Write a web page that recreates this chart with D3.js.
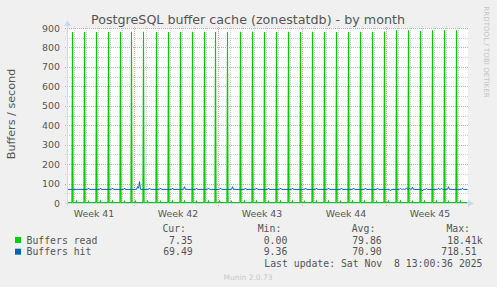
<!DOCTYPE html>
<html>
<head>
<meta charset="utf-8">
<script src="https://cdn.jsdelivr.net/npm/d3@7"></script>
<style>
  body { margin: 0; background: #f0f0f0; }
  svg { display: block; font-family: "DejaVu Sans", sans-serif; }
  .mono { font-family: "DejaVu Sans Mono", monospace; }
</style>
</head>
<body>
<script>
// time runs in hours from the left edge of the graph (2 h per pixel)
const spanHours = 800;
const weekLabels = ['Week 41', 'Week 42', 'Week 43', 'Week 44', 'Week 45'];
const weekLabelHours = [52, 220, 388, 556, 724];
const weekStartHours = [134, 302, 470, 638];
const yTicks = [0, 100, 200, 300, 400, 500, 600, 700, 800, 900];

// Buffers read: flat near zero with one tall spike a day
const readBase = 2;
const readSpikeHours = [10, 34, 58, 82, 106, 128, 152, 178, 202, 226, 250, 274, 296, 320, 346, 370, 394,
  418, 442, 466, 490, 514, 538, 562, 586, 610, 634, 658, 682, 706, 730, 754, 778];
const readSpikeValues = [879, 880, 880, 880, 880, 881, 881, 879, 880, 880, 881, 881, 880, 880, 881, 881, 880,
  880, 881, 880, 881, 880, 880, 880, 881, 881, 882, 888, 888, 885, 888, 888, 888];
const readBumpHours = [18, 42, 66, 90, 114, 136, 160, 186, 210, 234, 258, 282, 304, 328, 354, 378, 402,
  426, 450, 474, 498, 522, 546, 570, 594, 618, 642, 666, 690, 714, 738, 762, 786];
const readBumpValues = [10, 9, 10, 10, 9, 10, 10, 9, 10, 10, 9, 10, 10, 9, 10, 10, 9,
  10, 10, 9, 10, 10, 9, 10, 10, 9, 10, 10, 9, 10, 10, 9, 10];

// Buffers hit: steady around 70 with small daily bumps
const hitBase = 70;
const hitHours = [42, 66, 90, 114, 140, 142, 144, 164, 186, 210, 234, 258, 282, 306, 330, 356, 378, 402,
  426, 450, 476, 498, 522, 548, 572, 596, 620, 646, 666, 672, 678, 684, 690, 710, 718, 742, 748, 762, 790];
const hitValues = [77, 77, 77, 77, 84, 76, 110, 77, 77, 77, 84, 77, 77, 77, 84, 77, 77, 77,
  77, 77, 77, 77, 77, 77, 77, 77, 77, 62, 76, 72, 78, 74, 82, 62, 74, 76, 76, 84, 76];

const seriesNames = ['Buffers read', 'Buffers hit'];
const curValues = ['7.35', '69.49'];
const minValues = ['0.00', '9.36'];
const avgValues = ['79.86', '70.90'];
const maxValues = ['18.41k', '718.51'];

const colors = ['#00cc00', '#0066b3'];
const textColor = '#555';
const axisColor = '#cfd6f8';

const W = 497, H = 287;
const plotLeft = 67, plotRight = 467, plotTop = 28, plotBottom = 203;

const svg = d3.select('body').append('svg')
  .attr('width', W)
  .attr('height', H);

const x = d3.scaleLinear().domain([0, spanHours]).range([plotLeft + 0.5, plotRight + 0.5]);
const y = d3.scaleLinear().domain([0, 900]).range([plotBottom, plotTop]);

// white canvas
svg.append('rect')
  .attr('x', plotLeft).attr('y', plotTop)
  .attr('width', plotRight - plotLeft + 1).attr('height', plotBottom - plotTop)
  .attr('fill', '#fff');

// grid
const grid = svg.append('g').attr('shape-rendering', 'crispEdges').attr('stroke-dasharray', '1,1');
const dayHours = d3.range(14, spanHours, 24).filter(h => !weekStartHours.includes(h));
grid.selectAll('.vminor').data(dayHours).enter().append('line')
  .attr('x1', d => Math.floor(x(d))).attr('x2', d => Math.floor(x(d)))
  .attr('y1', plotBottom).attr('y2', plotTop - 2)
  .attr('stroke', '#cfcfcf');
const minorY = d3.range(50, 900, 100);
grid.selectAll('.hminor').data(minorY).enter().append('line')
  .attr('x1', plotLeft - 2).attr('x2', plotRight + 2)
  .attr('y1', d => Math.round(y(d))).attr('y2', d => Math.round(y(d)))
  .attr('stroke', '#cfcfcf');
grid.selectAll('.hmajor').data(yTicks.slice(1)).enter().append('line')
  .attr('x1', plotLeft - 2).attr('x2', plotRight + 2)
  .attr('y1', d => Math.round(y(d))).attr('y2', d => Math.round(y(d)))
  .attr('stroke', '#eba0a0');
grid.selectAll('.vmajor').data(weekStartHours).enter().append('line')
  .attr('x1', d => Math.floor(x(d))).attr('x2', d => Math.floor(x(d)))
  .attr('y1', plotBottom + 3).attr('y2', plotTop - 2)
  .attr('stroke', '#eba0a0');

// series: baseline with the read-off samples, joined by straight segments
function samples(base, hours, values, gap) {
  const ev = hours.map((h, i) => [h, values[i]]).sort((a, b) => a[0] - b[0]);
  const pts = [[0, base]];
  ev.forEach((e, i) => {
    const prev = pts[pts.length - 1];
    if (prev[0] < e[0] - gap) pts.push([e[0] - gap, base]);
    pts.push(e);
    const next = ev[i + 1];
    if (!next || next[0] > e[0] + gap) pts.push([e[0] + gap, base]);
  });
  pts.push([spanHours, base]);
  return pts;
}

const line = d3.line()
  .x(d => x(d[0]))
  .y(d => y(d[1]));

const readPts = samples(readBase, readSpikeHours.concat(readBumpHours), readSpikeValues.concat(readBumpValues), 1.2);
const hitPts = samples(hitBase, hitHours, hitValues, 2);

svg.append('path')
  .datum(readPts)
  .attr('fill', 'none')
  .attr('stroke', colors[0])
  .attr('stroke-width', 1.1)
  .attr('d', line);

svg.append('path')
  .datum(hitPts)
  .attr('fill', 'none')
  .attr('stroke', colors[1])
  .attr('stroke-width', 1)
  .attr('d', line);

// axes
const yAxis = svg.append('g')
  .attr('transform', `translate(${plotLeft},0)`)
  .call(d3.axisLeft(y).tickValues(yTicks).tickSize(0).tickPadding(7));
yAxis.select('.domain').remove();
yAxis.selectAll('text').attr('fill', textColor).style('font-size', '9.4px').style('font-family', 'DejaVu Sans');

const xAxis = svg.append('g')
  .attr('transform', `translate(0,${plotBottom})`)
  .call(d3.axisBottom(x).tickValues(weekLabelHours).tickFormat((d, i) => weekLabels[i]).tickSize(0).tickPadding(7));
xAxis.select('.domain').remove();
xAxis.selectAll('text').attr('fill', textColor).style('font-size', '9.4px').style('font-family', 'DejaVu Sans');

// axis lines and arrows
svg.append('line')
  .attr('x1', plotLeft - 2).attr('x2', plotRight + 3)
  .attr('y1', plotBottom + 0.5).attr('y2', plotBottom + 0.5)
  .attr('stroke', axisColor);
svg.append('line')
  .attr('x1', plotLeft + 0.5).attr('x2', plotLeft + 0.5)
  .attr('y1', plotBottom + 3).attr('y2', plotTop - 4)
  .attr('stroke', axisColor);
svg.append('path')
  .attr('d', `M${plotRight + 1},${plotBottom - 3}L${plotRight + 7},${plotBottom + 0.5}L${plotRight + 1},${plotBottom + 4}Z`)
  .attr('fill', axisColor);
svg.append('path')
  .attr('d', `M${plotLeft - 3},${plotTop - 2}L${plotLeft + 0.5},${plotTop - 8}L${plotLeft + 4},${plotTop - 2}Z`)
  .attr('fill', axisColor);

// title and labels
svg.append('text')
  .attr('x', 248).attr('y', 24)
  .attr('text-anchor', 'middle')
  .attr('fill', textColor)
  .style('font-size', '12.7px')
  .text('PostgreSQL buffer cache (zonestatdb) - by month');

svg.append('text')
  .attr('transform', 'translate(14.5,114) rotate(-90)')
  .attr('text-anchor', 'middle')
  .attr('fill', textColor)
  .style('font-size', '11.2px')
  .text('Buffers / second');

svg.append('text')
  .attr('transform', 'translate(484,52) rotate(90)')
  .attr('text-anchor', 'middle')
  .attr('fill', '#c4c4c4')
  .style('font-size', '7.1px')
  .text('RRDTOOL / TOBI OETIKER');

// legend
const legend = svg.append('g').attr('class', 'mono').attr('fill', textColor).style('font-size', '9.8px');
const colEnds = [192.7, 287.3, 381.7, 482.7];
const headEnds = [186, 281.3, 375.3, 470];
['Cur:', 'Min:', 'Avg:', 'Max:'].forEach((t, i) => {
  legend.append('text').attr('x', headEnds[i]).attr('y', 232.4).attr('text-anchor', 'end').text(t);
});
seriesNames.forEach((name, i) => {
  const by = 243.5 + i * 11.7;
  legend.append('rect')
    .attr('x', 15).attr('y', by - 6.5).attr('width', 6).attr('height', 6)
    .attr('fill', colors[i]);
  legend.append('text').attr('x', 26.5).attr('y', by).text(name);
  const vals = [curValues[i], minValues[i], avgValues[i], maxValues[i]];
  vals.forEach((v, j) => {
    const end = (j === 3 && i === 1) ? 476.7 : colEnds[j];
    legend.append('text').attr('x', end).attr('y', by).attr('text-anchor', 'end').text(v);
  });
});
legend.append('text')
  .attr('x', 482.5).attr('y', 267.1)
  .attr('text-anchor', 'end')
  .style('white-space', 'pre')
  .text('Last update: Sat Nov  8 13:00:36 2025');

svg.append('text')
  .attr('x', 248).attr('y', 279.5)
  .attr('text-anchor', 'middle')
  .attr('fill', '#c8c8c8')
  .style('font-size', '7.5px')
  .text('Munin 2.0.73');
</script>
</body>
</html>
